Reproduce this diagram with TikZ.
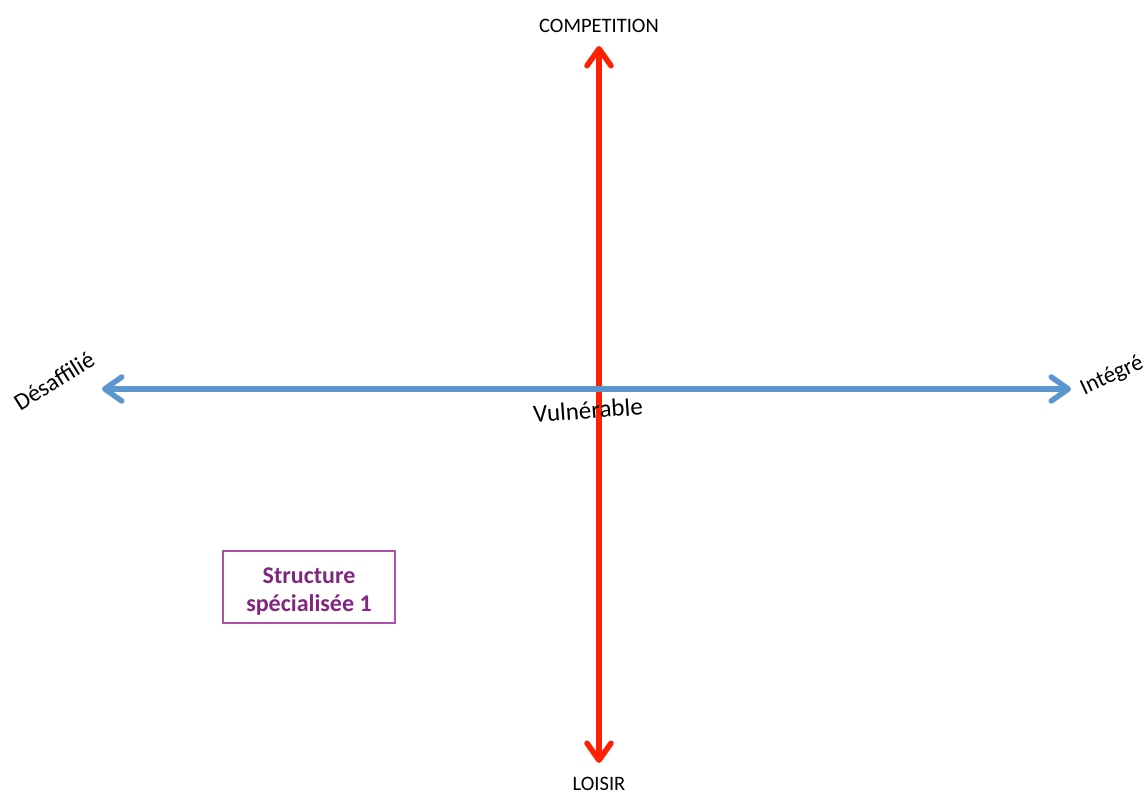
\documentclass[tikz,border=0pt]{standalone}
\usepackage{fontspec}
\setmainfont{Carlito}
\usetikzlibrary{arrows.meta}
\definecolor{axred}{RGB}{255,32,0}
\definecolor{axblue}{RGB}{91,150,208}
\definecolor{boxpurple}{RGB}{175,80,175}
\definecolor{txtpurple}{RGB}{128,38,128}
\tikzset{
  axtip/.tip={Straight Barb[length=17pt,width=24pt,line width=5.5pt,round]},
  axis/.style={line width=5.5pt, axtip-axtip},
  lab/.style={font=\fontsize{20.5}{23}\selectfont, text=black, inner sep=0pt},
  boxnode/.style={draw=boxpurple, line width=1.5pt, text=txtpurple, font=\bfseries\fontsize{24}{28}\selectfont, align=center, minimum width=172pt, minimum height=72pt, inner sep=0pt}
}
\begin{document}
\begin{tikzpicture}[x=1pt,y=-1pt]
\useasboundingbox (0,0) rectangle (1146,794);
\coordinate (top) at (599,46);
\coordinate (bot) at (599,763);
\coordinate (left) at (102,389);
\coordinate (right) at (1071,389);
\draw[axis, draw=axred] (bot) -- (top);
\draw[axis, draw=axblue] (left) -- (right);
\node[lab] (comp) at (599,26) {COMPETITION};
\node[lab] (loisir) at (599,784) {LOISIR};
\node[lab, font=\fontsize{24}{27}\selectfont, rotate=32] (desaf) at (54,381) {Désaffilié};
\node[lab, font=\fontsize{23}{26}\selectfont, rotate=25] (integre) at (1112,376) {Intégré};
\node[lab, font=\fontsize{25}{28}\selectfont, rotate=4] (vuln) at (588,410) {Vulnérable};
\node[boxnode] (struct) at (309,587) {\rule{0pt}{25pt}Structure\\spécialisée 1};
\end{tikzpicture}
\end{document}
